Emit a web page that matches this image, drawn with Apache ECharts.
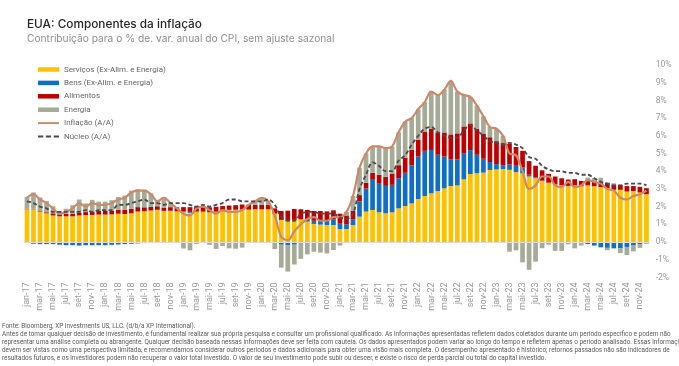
<!DOCTYPE html>
<html><head><meta charset="utf-8">
<script src="https://cdn.jsdelivr.net/npm/echarts@6/dist/echarts.min.js"></script>
<style>html,body{margin:0;padding:0;background:#fff}#c{width:679px;height:366px}</style>
</head><body><div id="c"></div><script>
const months = [
'jan-17','fev-17','mar-17','abr-17','mai-17','jun-17','jul-17','ago-17','set-17','out-17','nov-17','dez-17',
'jan-18','fev-18','mar-18','abr-18','mai-18','jun-18','jul-18','ago-18','set-18','out-18','nov-18','dez-18',
'jan-19','fev-19','mar-19','abr-19','mai-19','jun-19','jul-19','ago-19','set-19','out-19','nov-19','dez-19',
'jan-20','fev-20','mar-20','abr-20','mai-20','jun-20','jul-20','ago-20','set-20','out-20','nov-20','dez-20',
'jan-21','fev-21','mar-21','abr-21','mai-21','jun-21','jul-21','ago-21','set-21','out-21','nov-21','dez-21',
'jan-22','fev-22','mar-22','abr-22','mai-22','jun-22','jul-22','ago-22','set-22','out-22','nov-22','dez-22',
'jan-23','fev-23','mar-23','abr-23','mai-23','jun-23','jul-23','ago-23','set-23','out-23','nov-23','dez-23',
'jan-24','fev-24','mar-24','abr-24','mai-24','jun-24','jul-24','ago-24','set-24','out-24','nov-24','dez-24'];

const servicos = [
1.85,1.85,1.72,1.62,1.5,1.45,1.45,1.45,1.5,1.52,1.53,1.55,
1.55,1.56,1.6,1.58,1.62,1.72,1.74,1.78,1.82,1.76,1.75,1.72,
1.7,1.65,1.7,1.7,1.68,1.7,1.75,1.8,1.8,1.82,1.83,1.85,
1.85,1.85,1.6,1.25,1.2,1.25,1.28,1.15,1.02,0.98,0.96,0.96,
0.73,0.73,0.96,1.43,1.72,1.81,1.68,1.62,1.68,1.9,2.03,2.18,
2.43,2.6,2.75,2.88,3.03,3.16,3.2,3.54,3.84,3.88,3.92,4.07,
4.1,4.12,4.08,3.95,3.88,3.7,3.6,3.45,3.35,3.25,3.2,3.15,
3.2,3.15,3.2,3.15,3.1,3.05,2.95,2.95,2.85,2.88,2.8,2.7];

const bens = [
-0.05,-0.1,-0.12,-0.12,-0.12,-0.15,-0.18,-0.18,-0.2,-0.18,-0.18,-0.18,
-0.18,-0.16,-0.14,-0.12,-0.1,-0.08,-0.06,-0.05,-0.04,-0.03,0.02,0.02,
0.02,0.05,0.03,0.02,0,0.02,0.03,0.02,0.03,0.02,-0.02,-0.03,
0,-0.02,-0.05,-0.15,-0.18,-0.15,0,0.1,0.18,0.22,0.25,0.3,
0.34,0.27,0.32,0.86,1.3,1.75,1.65,1.55,1.55,1.7,1.88,2.15,
2.4,2.55,2.45,2.05,1.8,1.52,1.47,1.45,1.35,1.05,0.78,0.45,
0.3,0.22,0.3,0.4,0.35,0.1,0.05,0.02,0,-0.02,0,0.02,
-0.05,-0.07,-0.12,-0.2,-0.3,-0.33,-0.36,-0.36,-0.28,-0.2,-0.12,-0.08];

const alimentos = [
0.03,0.03,0.06,0.06,0.12,0.12,0.15,0.15,0.16,0.17,0.19,0.21,
0.22,0.2,0.22,0.25,0.25,0.25,0.22,0.2,0.2,0.18,0.2,0.22,
0.25,0.27,0.28,0.27,0.28,0.27,0.25,0.24,0.25,0.28,0.28,0.25,
0.25,0.25,0.3,0.5,0.57,0.62,0.57,0.56,0.55,0.55,0.52,0.53,
0.53,0.5,0.49,0.36,0.32,0.35,0.47,0.52,0.64,0.74,0.85,0.88,
0.95,1.07,1.19,1.27,1.36,1.4,1.47,1.54,1.51,1.47,1.43,1.4,
1.3,1.25,1.17,1.02,0.92,0.77,0.66,0.58,0.5,0.45,0.4,0.36,
0.35,0.3,0.3,0.3,0.28,0.3,0.3,0.28,0.31,0.28,0.32,0.34];

const energia = [
0.67,0.92,0.74,0.64,0.4,0.18,0.28,0.48,0.74,0.49,0.66,0.52,
0.51,0.6,0.72,0.79,1.03,1.01,1.0,0.77,0.32,0.59,0.23,-0.06,
-0.37,-0.47,-0.11,0.01,-0.16,-0.39,-0.23,-0.36,-0.38,-0.32,0.01,0.23,
0.4,0.22,-0.35,-1.3,-1.49,-1.12,-0.95,-0.7,-0.55,-0.6,-0.65,-0.45,
-0.2,0.2,0.83,1.55,1.66,1.49,1.6,1.61,1.53,1.86,2.04,1.79,
1.72,1.68,2.11,2.1,2.41,3.02,2.36,1.77,1.5,1.3,0.97,0.58,
0.7,0.41,-0.55,-0.47,-1.15,-1.57,-1.11,-0.35,-0.15,-0.48,-0.5,-0.13,
-0.31,-0.13,0.14,0.17,0.25,-0.13,0.07,-0.27,-0.46,-0.33,-0.21,-0.03];

const inflacao = [
2.5,2.7,2.4,2.2,1.9,1.6,1.7,1.9,2.2,2.0,2.2,2.1,
2.1,2.2,2.4,2.5,2.8,2.9,2.9,2.7,2.3,2.5,2.2,1.9,
1.6,1.5,1.9,2.0,1.8,1.6,1.8,1.7,1.7,1.8,2.1,2.3,
2.5,2.3,1.5,0.3,0.1,0.6,1.0,1.3,1.4,1.2,1.2,1.4,
1.4,1.7,2.6,4.2,5.0,5.4,5.4,5.3,5.4,6.2,6.8,7.0,
7.5,7.9,8.5,8.3,8.6,9.1,8.5,8.3,8.2,7.7,7.1,6.5,
6.4,6.0,5.0,4.9,4.0,3.0,3.2,3.7,3.7,3.2,3.1,3.4,
3.1,3.2,3.5,3.4,3.3,3.0,2.9,2.5,2.4,2.6,2.7,2.9];

const nucleo = [
2.3,2.2,2.0,1.9,1.7,1.7,1.7,1.7,1.7,1.8,1.7,1.8,
1.8,1.8,2.1,2.1,2.2,2.3,2.4,2.2,2.2,2.1,2.2,2.2,
2.2,2.1,2.0,2.1,2.0,2.1,2.2,2.4,2.4,2.3,2.3,2.3,
2.3,2.4,2.1,1.4,1.2,1.2,1.6,1.7,1.7,1.6,1.6,1.6,
1.4,1.3,1.6,3.0,3.8,4.5,4.3,4.0,4.0,4.6,4.9,5.5,
6.0,6.4,6.5,6.2,6.0,5.9,5.9,6.3,6.6,6.3,6.0,5.7,
5.6,5.5,5.6,5.5,5.3,4.8,4.7,4.3,4.1,4.0,4.0,3.9,
3.9,3.8,3.8,3.6,3.4,3.3,3.2,3.2,3.3,3.3,3.3,3.2];

const yTicks = {min: -2, max: 10, step: 1};

const footnote = [
'Fonte: Bloomberg, XP Investments US, LLC. (d/b/a XP International).',
'Antes de tomar qualquer decisão de investimento, é fundamental realizar sua própria pesquisa e consultar um profissional qualificado. As informações apresentadas refletem dados coletados durante um período específico e podem não',
'representar uma análise completa ou abrangente. Qualquer decisão baseada nessas informações deve ser feita com cautela. Os dados apresentados podem variar ao longo do tempo e refletem apenas o período analisado. Essas informações',
'devem ser vistas como uma perspectiva limitada, e recomendamos considerar outros períodos e dados adicionais para obter uma visão mais completa. O desempenho apresentado é histórico; retornos passados não são indicadores de',
'resultados futuros, e os investidores podem não recuperar o valor total investido. O valor de seu investimento pode subir ou descer, e existe o risco de perda parcial ou total do capital investido.'];

const chart = echarts.init(document.getElementById('c'), null, {renderer: 'canvas'});
const barW = 4.7;
function bar(name, data, color) {
  return {name, type: 'bar', stack: 'total', barWidth: barW, data,
    itemStyle: {color}, emphasis: {disabled: true}};
}
const s0 = bar('Serviços (Ex-Alim. e Energia)', servicos, '#FFC000');
s0.markLine = {silent: true, symbol: 'none', label: {show: false},
  lineStyle: {color: '#dcdcdc', type: 'solid', width: 1}, data: [{yAxis: 0}]};

chart.setOption({
  animation: false,
  textStyle: {fontFamily: 'Roboto'},
  title: {
    text: 'EUA: Componentes da inflação',
    subtext: 'Contribuição para o % de. var. anual do CPI, sem ajuste sazonal',
    left: 22, top: 13, itemGap: 4,
    textStyle: {fontFamily: 'Inter', fontSize: 11.8, fontWeight: 500, color: '#262626'},
    subtextStyle: {fontFamily: 'Inter', fontSize: 10.2, color: '#8f8f8f'}
  },
  legend: {
    orient: 'vertical', left: 33, top: 60, itemWidth: 21, itemHeight: 4.5, itemGap: 4.4,
    textStyle: {fontSize: 8, color: '#666666', lineHeight: 9, fontFamily: 'Roboto'},
    data: [
      {name: 'Serviços (Ex-Alim. e Energia)', icon: 'rect'},
      {name: 'Bens (Ex-Alim. e Energia)', icon: 'rect'},
      {name: 'Alimentos', icon: 'rect'},
      {name: 'Energia', icon: 'rect'},
      {name: 'Inflação (A/A)', icon: 'path://M0,0h22v2h-22z', itemHeight: 2},
      {name: 'Núcleo (A/A)', icon: 'path://M0,0h5.5v2h-5.5zM8.2,0h5.5v2h-5.5zM16.5,0h5.5v2h-5.5z', itemHeight: 2}
    ]
  },
  grid: {left: 23.7, right: 29.3, top: 65, bottom: 88.6, containLabel: false},
  xAxis: {
    type: 'category', data: months, boundaryGap: true,
    axisLine: {show: false}, axisTick: {show: false},
    axisLabel: {rotate: 90, interval: 1, fontSize: 9, color: '#9a9a9a', margin: 5}
  },
  yAxis: {
    type: 'value', position: 'right', min: yTicks.min, max: yTicks.max, interval: yTicks.step,
    splitLine: {show: false}, axisLine: {show: false}, axisTick: {show: false},
    axisLabel: {formatter: '{value}%', fontSize: 8.5, color: '#999999', margin: 6}
  },
  series: [
    s0,
    bar('Bens (Ex-Alim. e Energia)', bens, '#0F6FC6'),
    bar('Alimentos', alimentos, '#C00000'),
    bar('Energia', energia, '#A6AB98'),
    {name: 'Inflação (A/A)', type: 'line', data: inflacao, smooth: 0.35, symbol: 'none', z: 5,
      lineStyle: {color: '#CD8867', width: 2.2}, itemStyle: {color: '#CD8867'}},
    {name: 'Núcleo (A/A)', type: 'line', data: nucleo, smooth: 0.35, symbol: 'none', z: 6,
      lineStyle: {color: '#4a4a4a', width: 1.8, type: [4, 2.5]}, itemStyle: {color: '#4a4a4a'}}
  ],
  graphic: footnote.map((t, i) => ({
    type: 'text', left: 2, top: 323 + i * 8.2,
    style: {text: t, fontSize: 6.4, fill: '#595959', fontFamily: 'Roboto'}
  }))
});
</script></body></html>
